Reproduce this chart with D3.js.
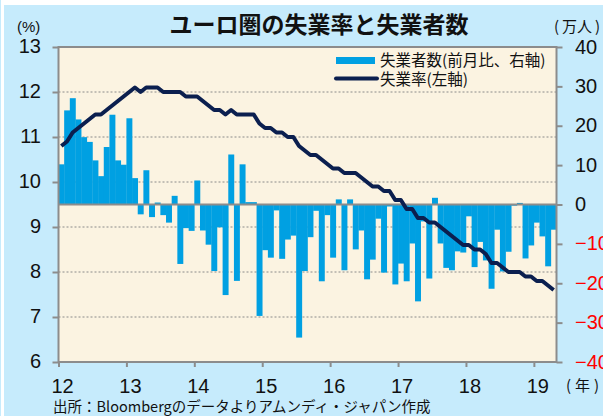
<!DOCTYPE html>
<html><head><meta charset="utf-8">
<script src="https://cdn.jsdelivr.net/npm/d3@7"></script>
<style>
html,body{margin:0;padding:0;background:#fff;}
svg{display:block;}
</style></head>
<body>
<svg id="c" width="603" height="416"></svg>
<script>
// ---- data ----
const startYear = 2012;
const months = d3.range(88).map(i => `${startYear + Math.floor(i/12)}-${String(i%12+1).padStart(2,"0")}`);
const unemployedChange = [ // 万人, 前月比 (right axis)
  10.2, 23.9, 27.0, 21.6, 17.1, 15.9, 11.2, 7.2, 14.6, 22.8, 11.2, 10.1,
  21.9, 6.7, -2.5, 8.7, -3.2, 0.5, -2.7, -4.6, 2.2, -15.1, -6.0, -6.7,
  6.1, -6.6, -10.2, -16.9, -5.8, -23.0, 12.7, -19.4, 10.2, 0.6, 0.6, -28.3,
  -11.6, -13.5, -1.5, -13.8, -8.9, -7.9, -33.8, -16.9, -8.3, -1.6, -19.5, -2.7,
  -13.5, 1.3, -16.7, 1.3, -11.4, -6.6, -19.0, -14.0, -3.6, -17.3, -0.5, -20.3,
  -15.0, -19.5, -9.9, -24.6, -4.3, -18.8, 1.7, -9.9, -16.1, -16.7, -11.9, -12.2,
  -3.0, -15.9, -9.5, -14.2, -21.4, -6.4, -17.0, -12.0, -0.3, 0.4, -13.7, -10.4,
  -4.6, -8.1, -15.7, -6.4
];
const unemploymentRate = [ // %, left axis
  10.8, 10.9, 11.1, 11.2, 11.3, 11.4, 11.5, 11.5, 11.6, 11.7, 11.8, 11.9,
  12.0, 12.1, 12.0, 12.1, 12.1, 12.1, 12.0, 12.0, 12.0, 12.0, 11.9, 11.9,
  11.9, 11.8, 11.7, 11.6, 11.6, 11.5, 11.6, 11.5, 11.5, 11.5, 11.5, 11.3,
  11.2, 11.2, 11.1, 11.1, 11.0, 11.0, 10.8, 10.7, 10.6, 10.6, 10.5, 10.4,
  10.3, 10.3, 10.2, 10.2, 10.2, 10.1, 10.0, 9.9, 9.9, 9.8, 9.8, 9.6,
  9.6, 9.4, 9.4, 9.2, 9.2, 9.1, 9.1, 9.0, 8.9, 8.8, 8.7, 8.6,
  8.6, 8.5, 8.5, 8.4, 8.2, 8.2, 8.1, 8.0, 8.0, 8.0, 7.9, 7.9,
  7.8, 7.8, 7.7, 7.6
];
const yearTicks = [2012, 2013, 2014, 2015, 2016, 2017, 2018, 2019];
const yearLabels = ["12", "13", "14", "15", "16", "17", "18", "19"];
const leftTicks = [6, 7, 8, 9, 10, 11, 12, 13];
const rightTicks = [-40, -30, -20, -10, 0, 10, 20, 30, 40];
const gridValues = [7, 8, 9, 10, 11, 12];
const title = "ユーロ圏の失業率と失業者数";
const legendLabels = ["失業者数(前月比、右軸)", "失業率(左軸)"];
const sourceText = "出所：Bloombergのデータよりアムンディ・ジャパン作成";

// ---- layout ----
const L = 58.5, R = 556.5, T = 47, B = 362;
const numFont = "'Liberation Sans', Arial, sans-serif";
const jpFont = "'Noto Sans CJK JP', 'Noto Sans', sans-serif";
const barColor = "#00a0e2", lineColor = "#0b1f4f";

const svg = d3.select("#c");
svg.append("rect").attr("x", 4).attr("y", 5).attr("width", 599).attr("height", 411).attr("fill", "#c6ebfc");
svg.append("rect").attr("x", 0).attr("y", 0).attr("width", 1).attr("height", 416).attr("fill", "#c6ebfc");

const x = d3.scaleBand().domain(months).range([L, R]).padding(0);
const xYear = d3.scaleLinear().domain([startYear, startYear + months.length/12]).range([L, R]);
const yL = d3.scaleLinear().domain([6, 13]).range([B, T]);
const yR = d3.scaleLinear().domain([-40, 40]).range([B, T]);

svg.append("rect").attr("x", L).attr("y", T).attr("width", R-L).attr("height", B-T).attr("fill", "#fbf3e1");

// gridlines
svg.append("g").selectAll("line").data(gridValues).join("line")
  .attr("x1", L).attr("x2", R).attr("y1", d => yL(d)).attr("y2", d => yL(d))
  .attr("stroke", "#8a8a8a").attr("stroke-width", 1).attr("stroke-dasharray", "2,2");

// bars
svg.append("g").selectAll("rect").data(unemployedChange).join("rect")
  .attr("x", (d,i) => x(months[i]))
  .attr("width", x.bandwidth() + 0.3)
  .attr("y", d => yR(Math.max(0, d)))
  .attr("height", d => Math.abs(yR(d) - yR(0)))
  .attr("fill", barColor);

// zero line
svg.append("line").attr("x1", L).attr("x2", R).attr("y1", yR(0)).attr("y2", yR(0))
  .attr("stroke", "#8c8c8c").attr("stroke-width", 2);

// line
const line = d3.line().x((d,i) => x(months[i]) + x.bandwidth()/2).y(d => yL(d));
svg.append("path").datum(unemploymentRate).attr("d", line)
  .attr("fill", "none").attr("stroke", lineColor).attr("stroke-width", 4).attr("stroke-linejoin", "round");

// frame
svg.append("rect").attr("x", L).attr("y", T).attr("width", R-L).attr("height", B-T)
  .attr("fill", "none").attr("stroke", "#8c8c8c").attr("stroke-width", 2);

// axes
const axL = svg.append("g").attr("transform", `translate(${L},0)`)
  .call(d3.axisLeft(yL).tickValues(leftTicks).tickSize(6).tickPadding(11.5).tickFormat(d3.format("d")));
const axR = svg.append("g").attr("transform", `translate(${R},0)`)
  .call(d3.axisRight(yR).tickValues(rightTicks).tickSize(6).tickPadding(12.5).tickFormat(d3.format("d")));
const axB = svg.append("g").attr("transform", `translate(0,${B})`)
  .call(d3.axisBottom(xYear).tickValues(yearTicks).tickSize(5).tickPadding(11.8).tickFormat((d,i) => yearLabels[i]));
[axL, axR, axB].forEach(g => {
  g.select(".domain").remove();
  g.selectAll(".tick line").attr("stroke", "#8c8c8c").attr("stroke-width", 2);
  g.selectAll(".tick text").attr("font-family", numFont).attr("font-size", 20).attr("fill", "#111");
});
axL.selectAll(".tick text").attr("dy", "0.27em");
axR.selectAll(".tick text").attr("fill", d => d < 0 ? "#ff0000" : "#111").attr("dy", "0.3em");
axB.selectAll(".tick text").attr("dx", 3.5);

// title & units
svg.append("text").attr("x", 319).attr("y", 33).attr("text-anchor", "middle")
  .attr("font-family", jpFont).attr("font-weight", "bold").attr("font-size", 23).attr("fill", "#111").text(title);
svg.append("text").attr("x", 17).attr("y", 32).attr("font-family", numFont).attr("font-size", 15).attr("fill", "#111").text("(%)");
const unitR = svg.append("text").attr("y", 32).attr("font-family", jpFont).attr("font-size", 15).attr("fill", "#111");
unitR.append("tspan").attr("x", 554).text("(");
unitR.append("tspan").attr("x", 562).text("万人");
unitR.append("tspan").attr("x", 595).text(")");
const unitX = svg.append("text").attr("y", 391).attr("font-family", jpFont).attr("font-size", 15).attr("fill", "#111");
unitX.append("tspan").attr("x", 566).text("(");
unitX.append("tspan").attr("x", 575).text("年");
unitX.append("tspan").attr("x", 594).text(")");
svg.append("text").attr("x", 53).attr("y", 412).attr("font-family", jpFont).attr("font-size", 14.5).attr("fill", "#111").text(sourceText);

// legend
const lg = svg.append("g");
lg.append("rect").attr("x", 336).attr("y", 57).attr("width", 39).attr("height", 7).attr("fill", barColor);
lg.append("line").attr("x1", 336).attr("x2", 377).attr("y1", 78.5).attr("y2", 78.5).attr("stroke", lineColor).attr("stroke-width", 4).attr("stroke-linecap", "round");
lg.selectAll("text").data(legendLabels).join("text")
  .attr("x", 380).attr("y", (d,i) => 66 + i*19)
  .attr("font-family", jpFont).attr("font-size", 15.5).attr("fill", "#111").text(d => d);
</script>
</body></html>
